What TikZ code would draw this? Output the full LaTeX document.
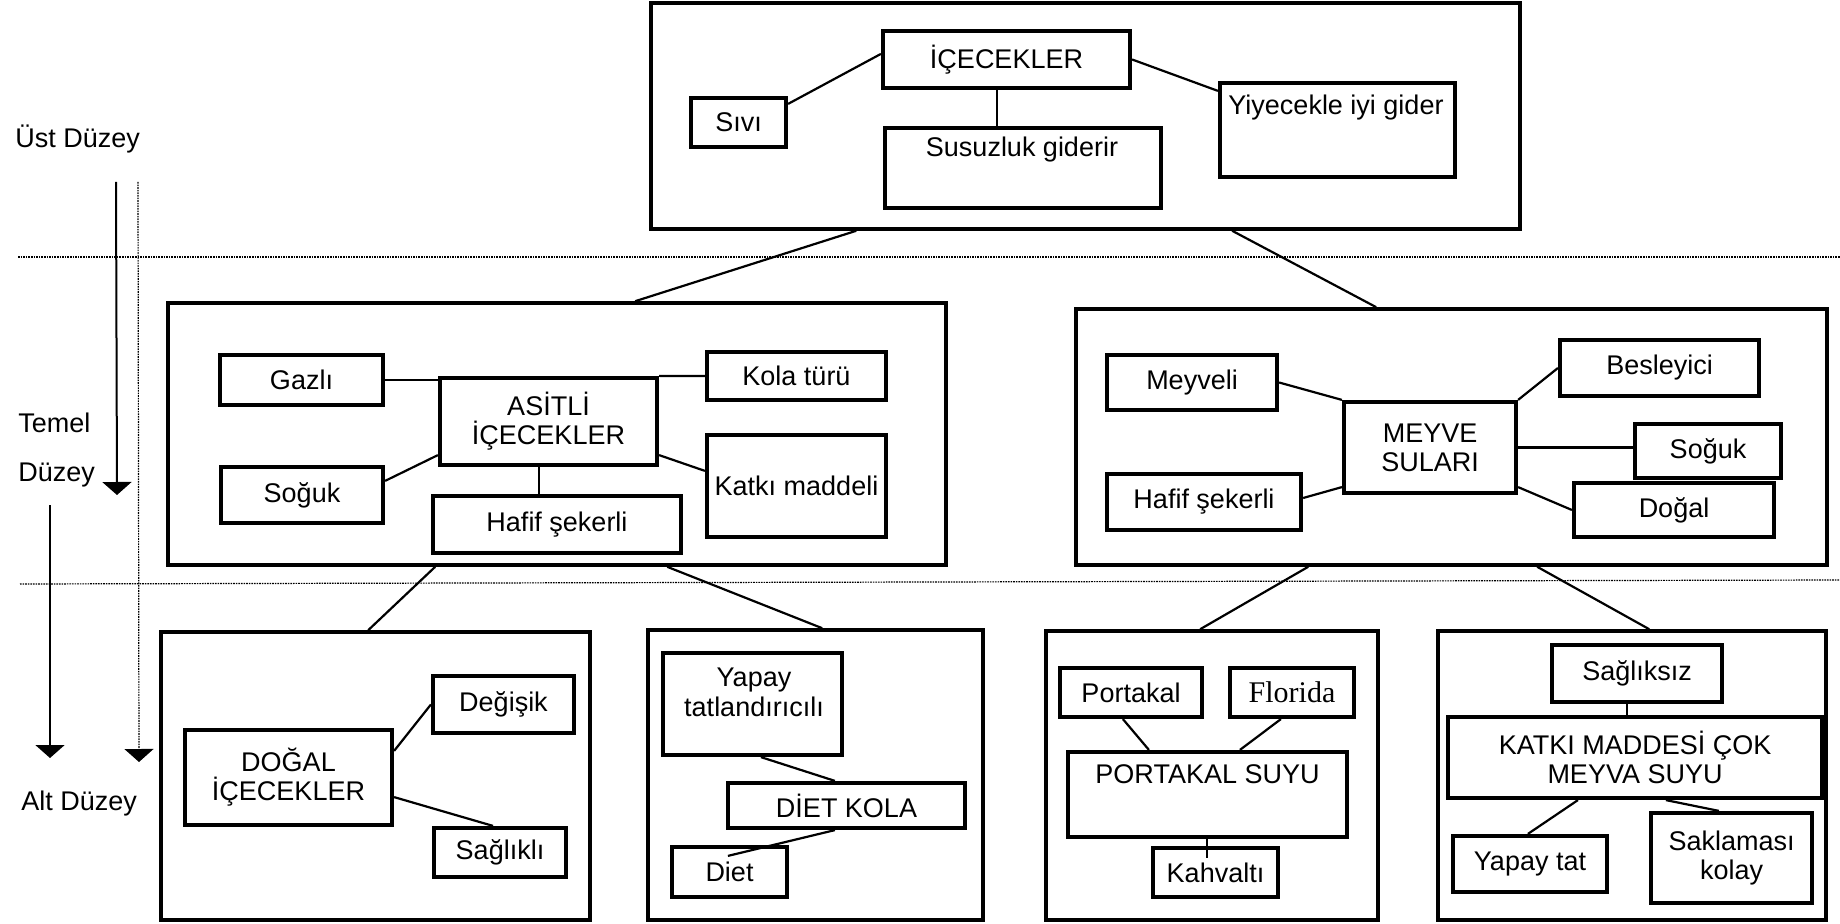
\documentclass[tikz,border=0pt]{standalone}
\usepackage{fontspec}
\setmainfont{Liberation Sans}
\newfontfamily\floridafont{Liberation Serif}
\usetikzlibrary{calc,arrows.meta}
\begin{document}
\begin{tikzpicture}[x=0.5pt,y=-0.5pt,
  font=\fontsize{13.5}{14.5}\selectfont,
  bx/.style={draw, line width=2.1pt, inner sep=0pt, align=center},
  big/.style={draw, line width=1.8pt, inner sep=0pt},
  sz/.style 2 args={minimum width=#1*0.5pt, minimum height=#2*0.5pt},
  con/.style={line width=1.1pt},
  thinl/.style={line width=0.6pt},
  lvl/.style={anchor=base west, inner sep=0pt},
  txt/.style={anchor=base, inner sep=0pt},
  dotl/.style={line width=0.6pt, dash pattern=on 0.8pt off 0.5pt},
  arr/.style={-{Triangle[length=6.5pt,width=14.5pt]}},
]
\useasboundingbox (0,0) rectangle (1840,924);

% level guides
\coordinate (d1a) at (18,257);
\coordinate (d1b) at (1840,257);
\coordinate (d2a) at (20,584);
\coordinate (d2b) at (1840,580);
\draw[dotl] (d1a) -- (d1b);
\draw[dotl] (d2a) -- (d2b);

\coordinate (a1s) at (116,182);
\coordinate (a1e) at (117,495);
\coordinate (a2s) at (50,505);
\coordinate (a2e) at (50,758);
\coordinate (a3s) at (138,182);
\coordinate (a3e) at (139,762);
\draw[line width=1pt, arr] (a1s) -- (a1e);
\draw[line width=1pt, arr] (a2s) -- (a2e);
\draw[dotl, arr] (a3s) -- (a3e);

\node[lvl] (lab1) at (15,148) {Üst Düzey};
\node[lvl] (lab2) at (18,433) {Temel};
\node[lvl] (lab3) at (18,481) {Düzey};
\node[lvl] (lab4) at (21,810) {Alt Düzey};

% top level
\node[big, sz={869}{226}] (topbox) at (1085.5,116) {};
\node[bx, sz={247}{57}] (ice) at (1006.5,59.5) {İÇECEKLER};
\node[bx, sz={95}{49}] (sivi) at (738.5,122.5) {Sıvı};
\node[bx, sz={276}{80}] (susuz) at (1023,168) {};
\node[txt] (susuzt) at (1022,157) {Susuzluk giderir};
\node[bx, sz={235}{94}] (yiy) at (1337.5,130) {};
\node[txt] (yiyt) at (1336,115) {Yiyecekle iyi gider};

\draw[con] ($(ice.north west)+(0,25)$) -- ($(sivi.north east)+(0,8)$);
\draw[thinl] ($(ice.south west)+(116,0)$) -- ($(susuz.north west)+(114,0)$);
\draw[con] (ice.east) -- ($(yiy.north west)+(0,10)$);

% basic level, left
\node[big, sz={778}{262}] (lbig) at (557,434) {};
\node[bx, sz={163}{50}] (gazli) at (301.5,380) {Gazlı};
\node[bx, sz={217}{87}] (asitli) at (548.5,421.5) {ASİTLİ\\İÇECEKLER};
\node[bx, sz={179}{48}] (kola) at (796.5,376) {Kola türü};
\node[bx, sz={179}{102}] (katki) at (796.5,486) {Katkı maddeli};
\node[bx, sz={162}{56}] (soguk1) at (302,495) {Soğuk};
\node[bx, sz={248}{57}] (hafif1) at (557,524.5) {Hafif şekerli};

\draw[con] (gazli.east) -- (gazli.east -| asitli.west);
\draw[con] (asitli.north east) -- (kola.west);
\draw[con] ($(asitli.south west)+(0,-12)$) -- ($(soguk1.north east)+(0,16)$);
\draw[con] ($(asitli.south east)+(0,-12)$) -- ($(katki.north west)+(0,38)$);
\draw[thinl] ($(asitli.south west)+(101,0)$) -- ($(hafif1.north west)+(108,0)$);

% basic level, right
\node[big, sz={751}{256}] (rbig) at (1451.5,437) {};
\node[bx, sz={170}{55}] (meyveli) at (1192,382.5) {Meyveli};
\node[bx, sz={172}{91}] (meyve) at (1430,447.5) {MEYVE\\SULARI};
\node[bx, sz={199}{56}] (besley) at (1659.5,368) {Besleyici};
\node[bx, sz={146}{54}] (soguk2) at (1708,451) {Soğuk};
\node[bx, sz={200}{54}] (dogal) at (1674,510) {Doğal};
\node[bx, sz={194}{56}] (hafif2) at (1204,502) {Hafif şekerli};

\draw[con] (meyveli.east) -- (meyve.north west);
\draw[con] (meyve.north east) -- (besley.west);
\draw[con] (meyve.east) -- (meyve.east -| soguk2.west);
\draw[con] ($(meyve.south east)+(0,-8)$) -- (dogal.west);
\draw[con] ($(meyve.south west)+(0,-8)$) -- ($(hafif2.east)+(0,-4)$);

% top -> basic
\draw[con] ($(topbox.south west)+(207,0)$) -- ($(lbig.north west)+(469,0)$);
\draw[con] ($(topbox.south west)+(583,0)$) -- ($(rbig.north west)+(302,0)$);

% lower level boxes
\node[big, sz={429}{288}] (boxA) at (375.5,776) {};
\node[big, sz={335}{290}] (boxB) at (815.5,775) {};
\node[big, sz={332}{289}] (boxC) at (1212,775.5) {};
\node[big, sz={388}{289}] (boxD) at (1632,775.5) {};

\draw[con] ($(lbig.south west)+(269,0)$) -- ($(boxA.north west)+(209,0)$);
\draw[con] ($(lbig.south west)+(501,0)$) -- ($(boxB.north west)+(176,0)$);
\draw[con] ($(rbig.south west)+(234,0)$) -- ($(boxC.north west)+(156,0)$);
\draw[con] ($(rbig.south west)+(463,0)$) -- ($(boxD.north west)+(213,0)$);

% box A
\node[bx, sz={141}{57}] (degisik) at (503.5,704.5) {Değişik};
\node[bx, sz={207}{95}] (dogalice) at (288.5,777.5) {DOĞAL\\İÇECEKLER};
\node[bx, sz={132}{49}] (saglikli) at (500,852.5) {Sağlıklı};
\draw[con] ($(dogalice.north east)+(0,23)$) -- (degisik.west);
\draw[con] ($(dogalice.south east)+(0,-30)$) -- ($(saglikli.north)+(-7,0)$);

% box B
\node[bx, sz={179}{102}] (yapay) at (752.5,704) {};
\node[txt] (yapayt1) at (754,686) {Yapay};
\node[txt] (yapayt2) at (754,716) {tatlandırıcılı};
\node[bx, sz={237}{45}] (dietkola) at (846.5,805.5) {DİET KOLA};
\node[bx, sz={115}{50}] (diet) at (729.5,872) {Diet};
\draw[con] ($(yapay.south west)+(100,0)$) -- ($(dietkola.north west)+(109,0)$);
\draw[con] ($(dietkola.south west)+(109,0)$) -- ($(diet.north west)+(58,11)$);

% box C
\node[bx, sz={142}{49}] (portakal) at (1131,692.5) {Portakal};
\node[bx, sz={124}{49}, font=\floridafont\fontsize{15}{16}\selectfont] (florida) at (1292,692.5) {Florida};
\node[bx, sz={279}{85}] (ps) at (1207.5,794.5) {};
\node[txt] (pst) at (1207.5,783) {PORTAKAL SUYU};
\node[bx, sz={125}{49}] (kahv) at (1215.5,872.5) {Kahvaltı};
\draw[con] ($(portakal.south west)+(65,0)$) -- ($(ps.north west)+(83,0)$);
\draw[con] ($(florida.south west)+(53,0)$) -- ($(ps.north west)+(174,0)$);
\draw[thinl] ($(ps.south west)+(141,0)$) -- ($(kahv.north west)+(56,12)$);

% box D
\node[bx, sz={170}{57}] (sagliksiz) at (1637,673.5) {Sağlıksız};
\node[bx, sz={374}{81}] (katkim) at (1635,757.5) {KATKI MADDESİ ÇOK\\MEYVA SUYU};
\node[bx, sz={154}{56}] (yapaytat) at (1530,864) {Yapay tat};
\node[bx, sz={161}{90}] (saklama) at (1731.5,858) {Saklaması\\kolay};
\draw[thinl] ($(sagliksiz.south west)+(77,0)$) -- ($(katkim.north west)+(181,0)$);
\draw[con] ($(katkim.south west)+(132,0)$) -- ($(yapaytat.north west)+(77,0)$);
\draw[con] ($(katkim.south west)+(220,0)$) -- ($(saklama.north west)+(70,0)$);
\end{tikzpicture}
\end{document}
